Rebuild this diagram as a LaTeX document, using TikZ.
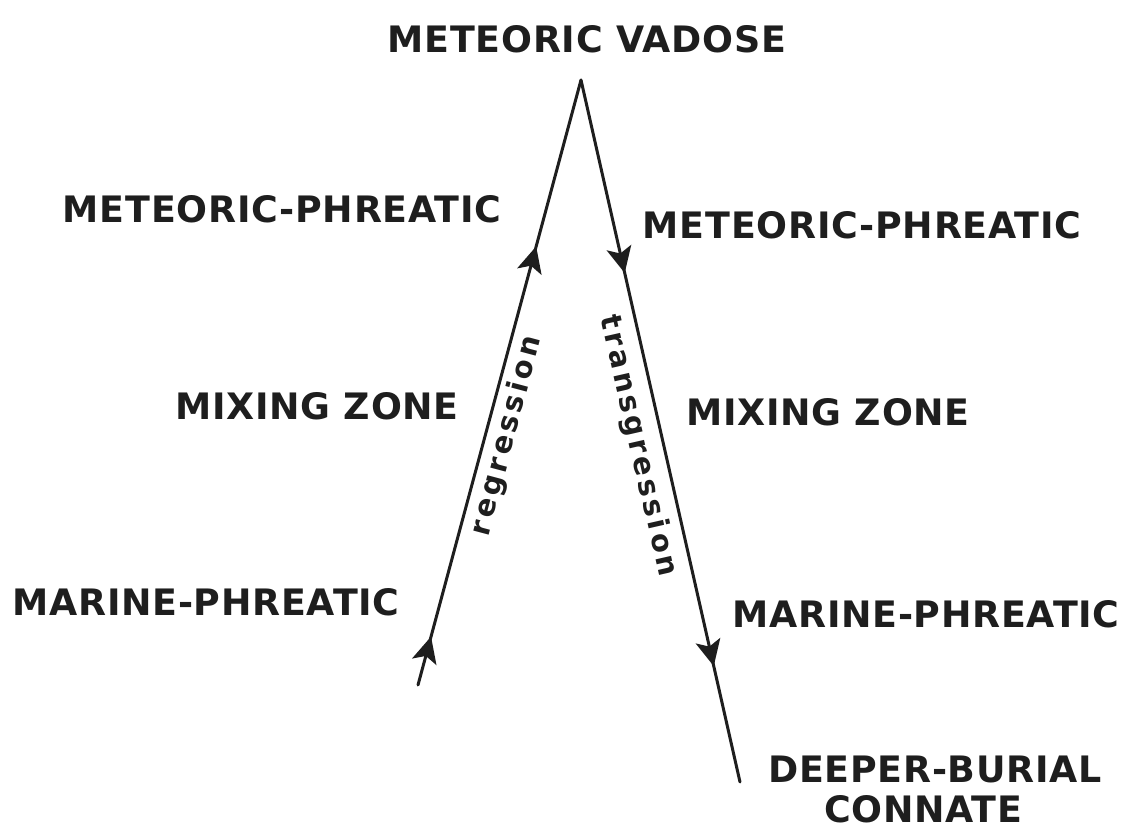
\documentclass[tikz,border=0pt]{standalone}
\usepackage{fontspec}
\newfontfamily\labfont[LetterSpace=2]{DejaVu Sans}
\newfontfamily\rotfont[LetterSpace=12]{DejaVu Sans}
\usetikzlibrary{arrows.meta,decorations.markings}
\definecolor{ink}{HTML}{1E1E1E}
\begin{document}
\begin{tikzpicture}[x=0.5pt,y=-0.5pt,
  lab/.style={font=\labfont\bfseries\fontsize{18.2}{20}\selectfont, text=ink, inner sep=0pt, anchor=center},
  rotlab/.style={font=\rotfont\bfseries\fontsize{14.5}{16}\selectfont, text=ink, inner sep=0pt, anchor=center},
  path line/.style={draw=ink, line width=1.5pt, line cap=round},
  head/.tip={Stealth[length=13pt,width=12.5pt,inset=3pt]}
]
\useasboundingbox (0,0) rectangle (1132,829);

% labels
\node[lab] (vad) at (587,39) {METEORIC VADOSE};
\node[lab] (lmp) at (282,209) {METEORIC-PHREATIC};
\node[lab] (rmp) at (862,225) {METEORIC-PHREATIC};
\node[lab] (lmz) at (317,406) {MIXING ZONE};
\node[lab] (rmz) at (828,412) {MIXING ZONE};
\node[lab] (lmar) at (206,602) {MARINE-PHREATIC};
\node[lab] (rmar) at (926,614) {MARINE-PHREATIC};
\node[lab] (deep) at (935,769) {DEEPER-BURIAL};
\node[lab] (conn) at (923,809) {CONNATE};

% path coordinates
\coordinate (apex) at (581,80);
\coordinate (lb) at (418,685);
\coordinate (rb) at (740,782);

% regression limb (upward)
\draw[path line, postaction={decorate}, decoration={markings,
   mark=at position 0.08 with {\arrow[ink]{head}},
   mark=at position 0.725 with {\arrow[ink]{head}}}] (lb) -- (apex);
% transgression limb (downward)
\draw[path line, postaction={decorate}, decoration={markings,
   mark=at position 0.275 with {\arrow[ink]{head}},
   mark=at position 0.835 with {\arrow[ink]{head}}}] (apex) -- (rb);

\node[rotlab, rotate=75.1] (reg) at (507,436) {regression};
\node[rotlab, rotate=-77.2] (trans) at (638,446) {transgression};
\end{tikzpicture}
\end{document}
